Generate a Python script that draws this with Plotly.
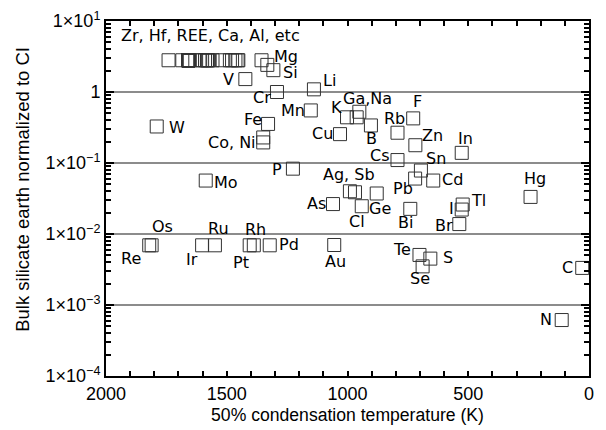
import plotly.graph_objects as go
import math

# ---- data (50% condensation temperature in K, BSE/CI) ----
cluster_T = [1741, 1684, 1659, 1659, 1659, 1659, 1659, 1659, 1659, 1659, 1659, 1659,
             1653, 1610, 1602, 1590, 1582, 1582, 1578, 1573, 1559, 1517, 1487, 1478,
             1464, 1455, 1452, 1356]
cluster_val = [2.8] * len(cluster_T)

elements = ["Mg", "Si", "V", "Li", "Cr", "Mn", "K", "Ga", "Na", "B", "Cu", "F", "Rb",
            "Zn", "In", "Cs", "Sn", "Pb", "Cd", "Ag", "Sb", "Ge", "As", "Cl", "Bi",
            "Tl", "I", "Br", "Hg", "C", "N", "Fe", "W", "Co", "Ni", "P", "Mo",
            "Re", "Os", "Ir", "Ru", "Pt", "Rh", "Pd", "Au", "Te", "S", "Se"]
temps = [1332, 1307, 1423, 1139, 1292, 1152, 1002, 962, 951, 903, 1031, 728, 793,
         719, 527, 793, 696, 720, 645, 990, 969, 879, 1060, 941, 740,
         523, 527, 537, 242, 28, 113, 1329, 1790, 1349, 1349, 1226, 1587,
         1821, 1811, 1602, 1549, 1405, 1388, 1322, 1055, 702, 657, 689]
values = [2.41, 2.03, 1.52, 1.09, 1.0, 0.55, 0.44, 0.44, 0.527, 0.338, 0.255, 0.425, 0.267,
          0.178, 0.139, 0.110, 0.0783, 0.0604, 0.0566, 0.040, 0.0387, 0.0372, 0.0264, 0.0246, 0.0226,
          0.026, 0.0221, 0.0138, 0.0333, 0.00333, 0.000614, 0.355, 0.327, 0.229, 0.195, 0.0832, 0.0566,
          0.00693, 0.00693, 0.00693, 0.00693, 0.00693, 0.00693, 0.00693, 0.0070, 0.00507, 0.0045, 0.0035]

# label text, anchor element, and pixel offset (dx right, dy down) -- styling only
labels = [
    ("Mg", "Mg", 19, -8.5), ("Si", "Si", 16.7, 2.2), ("V", "V", -17, 0.8),
    ("Li", "Li", 15.2, -9), ("Cr", "Cr", -14.7, 5), ("Mn", "Mn", -18.2, 0),
    ("K", "K", -10.3, -10.3), ("Ga,Na", "Na", 8.3, -12.8), ("F", "F", 4.2, -16.5),
    ("Rb", "Rb", -2.5, -13.8), ("Zn", "Zn", 17.4, -9.8), ("B", "B", 0.7, 13),
    ("Cu", "Cu", -17.3, -0.7), ("In", "In", 3.3, -14.3), ("Cs", "Cs", -17, -5),
    ("Sn", "Sn", 15.2, -12), ("Ag, Sb", "Ag", -1.2, -16.7), ("Pb", "Pb", -12.5, 10),
    ("Cd", "Cd", 19.4, -1.5), ("Tl", "Tl", 15.6, -4), ("Hg", "Hg", 4.3, -18.3),
    ("I", "I", -10.2, -1), ("Br", "Br", -15.5, 1.5), ("Bi", "Bi", -4.5, 13.7),
    ("Cl", "Cl", -5, 14.8), ("Ge", "Ge", 2.8, 15), ("As", "As", -17, -0.5),
    ("Au", "Au", 0.8, 16.2), ("Te", "Te", -17.3, -5.8), ("S", "S", 17.4, -1),
    ("Se", "Se", -2.5, 11.8), ("C", "C", -14.7, -0.8), ("N", "N", -15.4, -0.3),
    ("Fe", "Fe", -15, -4), ("W", "W", 19.8, 1.5), ("Co, Ni", "Ni", -31, 0),
    ("P", "P", -15.8, 0.8), ("Mo", "Mo", 20.5, 2), ("Os", "Os", 11.3, -18.7),
    ("Ru", "Ru", 3.8, -16.7), ("Rh", "Rh", 1.8, -16.2), ("Pd", "Pd", 19.1, -0.7),
    ("Re", "Re", -18.5, 13.3), ("Ir", "Ir", -10.3, 14.3), ("Pt", "Pt", -8.9, 17.3),
]
cluster_label = "Zr, Hf, REE, Ca, Al, etc"
x_title = "50% condensation temperature (K)"
y_title = "Bulk silicate earth normalized to CI"

y_major = [1e-4, 1e-3, 1e-2, 1e-1, 1, 10]
y_major_text = ["1×10<sup>−4</sup>", "1×10<sup>−3</sup>", "1×10<sup>−2</sup>",
                "1×10<sup>−1</sup>", "1", "1×10<sup>1</sup>"]
x_major = [2000, 1500, 1000, 500, 0]

marker = dict(symbol="square-open", size=13, color="#333333", line=dict(width=1, color="#333333"))

fig = go.Figure()
fig.add_trace(go.Scatter(x=cluster_T, y=cluster_val, mode="markers", marker=marker,
                         showlegend=False, hoverinfo="skip"))
fig.add_trace(go.Scatter(x=temps, y=values, mode="markers", marker=marker,
                         showlegend=False, text=elements))

lab_font = dict(family="DejaVu Sans", size=16, color="black")
idx = {e: i for i, e in enumerate(elements)}
for text, el, dx, dy in labels:
    i = idx[el]
    fig.add_annotation(x=temps[i], y=math.log10(values[i]), text=text, showarrow=False,
                       xanchor="center", yanchor="middle", xshift=dx, yshift=-dy,
                       font=lab_font)
fig.add_annotation(x=cluster_T[0], y=math.log10(cluster_val[0]), text=cluster_label,
                   showarrow=False, xanchor="center", yanchor="middle",
                   xshift=42.3, yshift=24.3, font=lab_font)

# y-axis title placed as a rotated paper annotation
fig.add_annotation(xref="paper", yref="paper", x=-0.172, y=0.527, text=y_title,
                   textangle=-90, showarrow=False, xanchor="center", yanchor="middle",
                   font=dict(family="Liberation Sans, Arial", size=18.5, color="black"))

minor_y = [m * 10 ** e for e in range(-4, 1) for m in range(2, 10)]

fig.update_layout(
    width=606, height=430,
    margin=dict(l=106, r=17, t=21, b=54),
    plot_bgcolor="white", paper_bgcolor="white",
    font=dict(family="Liberation Sans, Arial", size=18, color="black"),
    xaxis=dict(range=[2000, 0], tickvals=x_major, ticks="inside", ticklen=5, tickwidth=1.5,
               tickcolor="black", showline=True, linecolor="black", linewidth=2, mirror="ticks",
               showgrid=False, zeroline=False, automargin=False,
               minor=dict(dtick=100, ticks="inside", ticklen=5, tickwidth=1.5, tickcolor="black", showgrid=False),
               title=dict(text=x_title, standoff=6, font=dict(size=17.6)),
               tickfont=dict(size=18)),
    yaxis=dict(type="log", range=[-4, 1], tickvals=y_major, ticktext=y_major_text,
               ticks="inside", ticklen=8, tickwidth=1.5, tickcolor="black",
               showline=True, linecolor="black", linewidth=2, mirror="ticks",
               showgrid=True, gridcolor="#8c8c8c", gridwidth=2, zeroline=False, automargin=False,
               minor=dict(tickvals=minor_y, ticks="inside", ticklen=5, tickwidth=1.5,
                          tickcolor="black", showgrid=False),
               tickfont=dict(size=18)),
)

fig.write_html("out.html")
